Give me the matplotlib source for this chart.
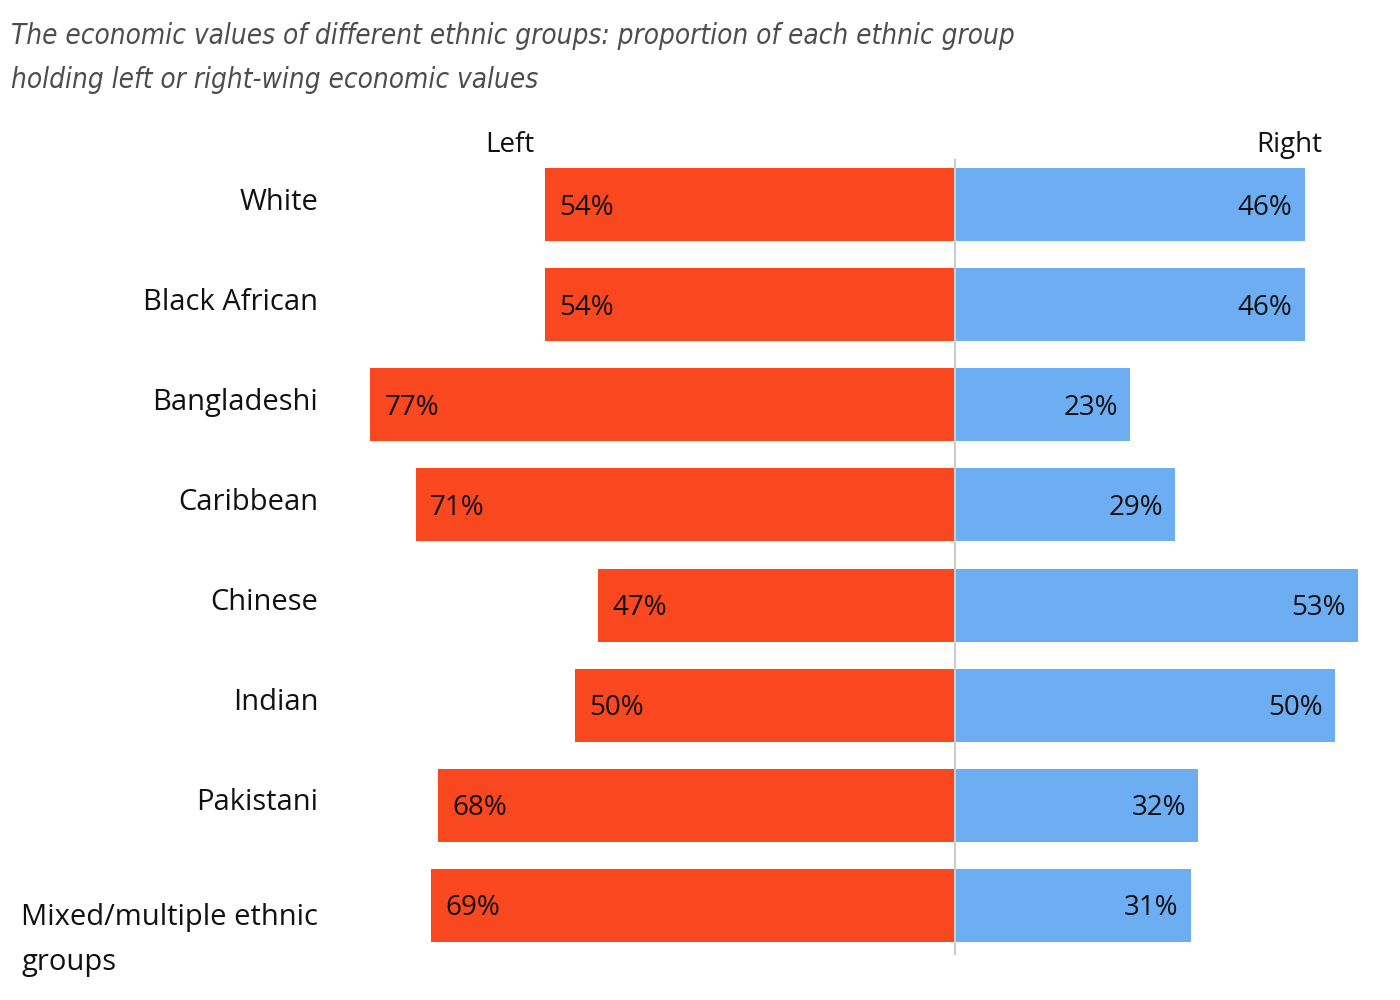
import matplotlib
matplotlib.use("Agg")
import matplotlib.pyplot as plt

categories = ["White", "Black African", "Bangladeshi", "Caribbean", "Chinese",
              "Indian", "Pakistani", "Mixed/multiple ethnic\ngroups"]
left_vals = [54, 54, 77, 71, 47, 50, 68, 69]
right_vals = [46, 46, 23, 29, 53, 50, 32, 31]
title = ("The economic values of different ethnic groups: proportion of each ethnic group\n"
         "holding left or right-wing economic values")

RED = "#F9471F"
BLUE = "#6DADF2"
FONT = "Open Sans"

fig = plt.figure(figsize=(14, 10), dpi=100)
ax = fig.add_axes([0.248, 0.045, 0.749, 0.80])
ax.set_xlim(-80, 58)
ax.set_ylim(len(categories) - 0.5, -0.5)

ys = list(range(len(categories)))
ax.barh(ys, [-v for v in left_vals], height=0.73, color=RED, edgecolor="none")
ax.barh(ys, right_vals, height=0.73, color=BLUE, edgecolor="none")
ax.plot([0, 0], [-0.45, 7.5], color="#cccccc", lw=1.5, zorder=3)

for y, lv, rv in zip(ys, left_vals, right_vals):
    ax.text(-lv + 1.9, y + 0.03, f"{lv}%", ha="left", va="center", fontsize=20,
            family=FONT, color="#111111")
    ax.text(rv - 1.6, y + 0.03, f"{rv}%", ha="right", va="center", fontsize=20,
            family=FONT, color="#111111")

for y, c in zip(ys, categories):
    if "\n" in c:
        ax.text(-83.8, y + 0.35, c, ha="right", va="center", fontsize=21, family=FONT,
                multialignment="left", color="#111111", linespacing=1.75)
    else:
        ax.text(-83.8, y - 0.02, c, ha="right", va="center", fontsize=21, family=FONT,
                color="#111111")

ax.text(-58.6, -0.6, "Left", ha="center", va="center", fontsize=20, family=FONT, color="#111111")
ax.text(44, -0.6, "Right", ha="center", va="center", fontsize=20, family=FONT, color="#111111")

ax.set_axis_off()
fig.text(0.008, 0.942, title, ha="left", va="center", fontsize=20, style="italic",
         family="DejaVu Sans", stretch="condensed", color="#4d4d4d", linespacing=1.75)

fig.savefig("out.png", dpi=100)
